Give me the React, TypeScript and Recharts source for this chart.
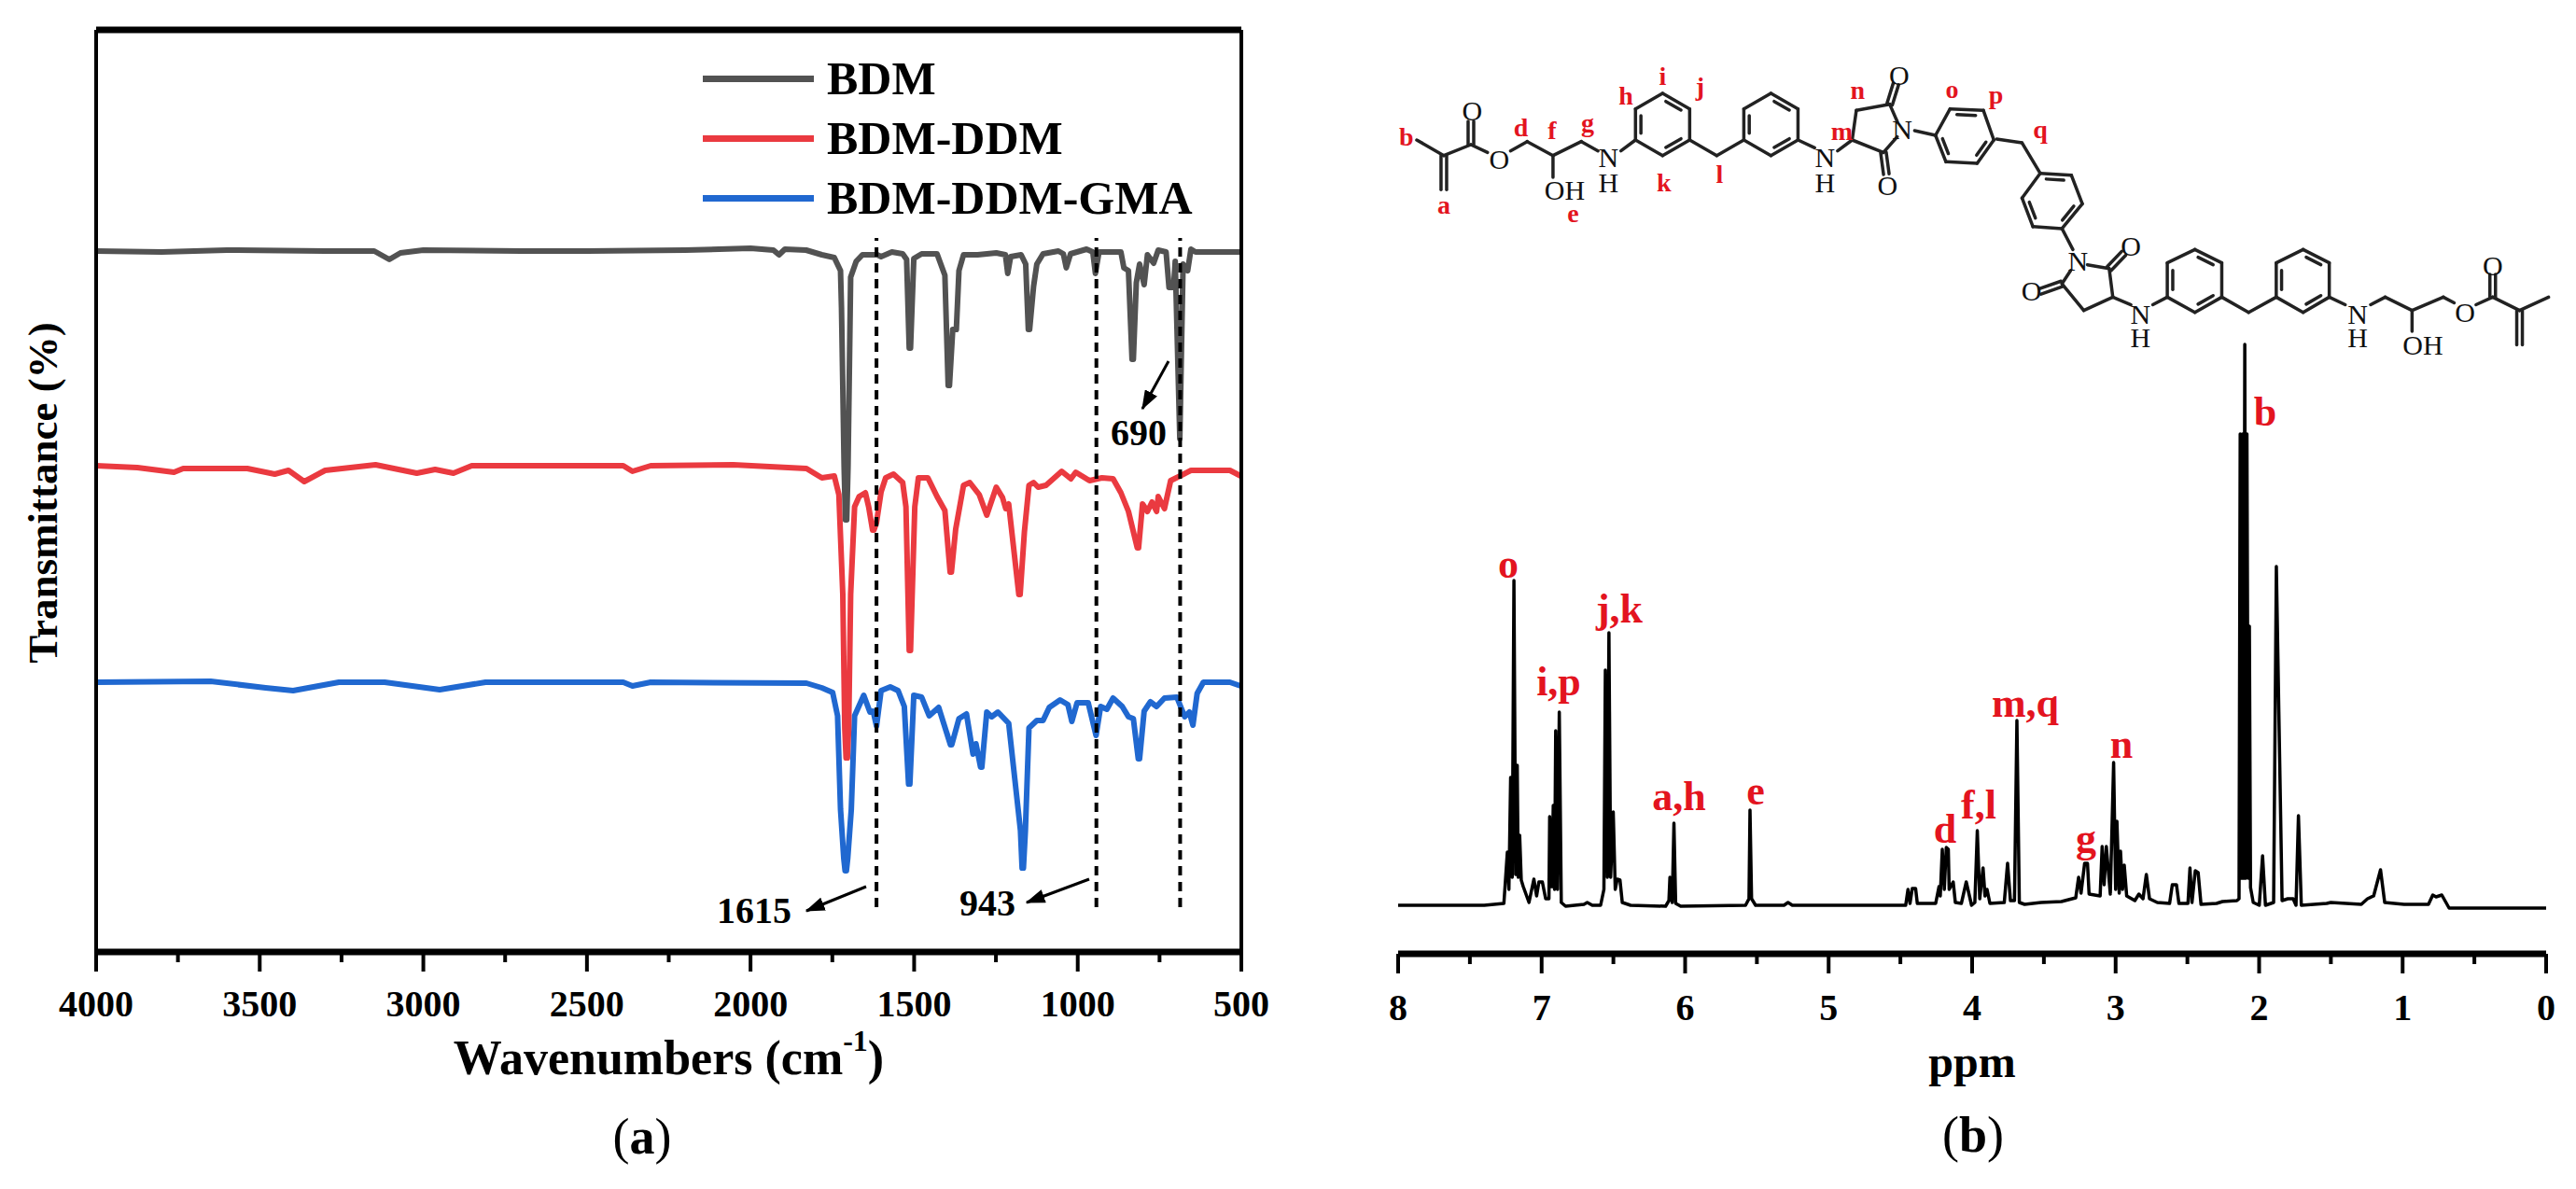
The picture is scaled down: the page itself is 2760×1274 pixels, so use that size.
import React from "react";
import { Legend, Line, LineChart, ReferenceLine, XAxis, YAxis } from "recharts";

const SERIF = "'Liberation Serif', 'Times New Roman', serif";

// [wavenumber, transmittance in arbitrary units]
const bdmPoints = [
  [4000, 751], [3800, 750], [3600, 752], [3300, 751], [3150, 751], [3104, 742], [3070, 749], [3000, 752], [2700, 751], [2500, 751],
  [2200, 752], [2000, 754], [1930, 752], [1913, 747], [1895, 753], [1830, 752], [1782, 747], [1744, 744], [1725, 730], [1722, 690],
  [1714, 520], [1710, 463], [1706, 463], [1702, 520], [1694, 723], [1677, 740], [1658, 747], [1613, 747], [1601, 745], [1568, 750], [1535, 748], [1523, 742], [1515, 647], [1511, 647],
  [1501, 743], [1477, 748], [1430, 748], [1406, 725], [1396, 607], [1392, 607], [1382, 667], [1371, 667], [1363, 730], [1349, 747], [1306, 747],
  [1249, 749], [1221, 747], [1214, 727], [1205, 745], [1173, 747], [1159, 737], [1151, 667], [1147, 667], [1135, 713], [1125, 737], [1106, 748],
  [1059, 751], [1044, 748], [1035, 733], [1022, 748], [973, 753], [954, 750], [946, 727], [935, 750], [868, 750], [859, 733],
  [845, 730], [834, 635], [830, 635], [821, 717], [811, 737], [797, 715], [787, 747], [768, 738], [754, 752], [730, 750], [721, 712],
  [707, 712], [702, 740], [688, 550], [678, 737], [664, 730], [654, 753], [640, 750], [507, 750], [500, 750],
];

const bdmDdmPoints = [
  [4000, 521], [3874, 519], [3762, 514], [3734, 518], [3538, 518], [3454, 512], [3412, 516], [3364, 504], [3300, 516], [3146, 522],
  [3020, 513], [2964, 517], [2908, 513], [2852, 521], [2389, 521], [2361, 515], [2305, 521], [2053, 522], [1829, 518], [1782, 508],
  [1744, 510], [1730, 490], [1718, 383], [1712, 240], [1708, 208], [1704, 208], [1700, 240], [1694, 383], [1682, 477], [1668, 488], [1649, 492], [1639, 477], [1627, 452], [1623, 452],
  [1615, 460], [1601, 493], [1587, 508], [1563, 512], [1535, 503], [1525, 477], [1515, 323], [1511, 323], [1498, 477], [1487, 508], [1458, 508],
  [1430, 488], [1406, 473], [1390, 407], [1386, 407], [1373, 453], [1349, 500], [1330, 503], [1301, 490], [1278, 468], [1249, 498], [1230, 487],
  [1220, 475], [1211, 480], [1180, 383], [1176, 383], [1163, 450], [1149, 500], [1135, 503], [1121, 498], [1097, 500], [1049, 515], [1021, 507],
  [1006, 514], [964, 505], [926, 508], [892, 507], [868, 492], [845, 472], [818, 433], [814, 433], [802, 480], [787, 472], [773, 482],
  [759, 472], [754, 488], [735, 475], [716, 505], [654, 516], [535, 516], [502, 510],
];

const bdmDdmGmaPoints = [
  [4000, 289], [3650, 290], [3482, 283], [3398, 280], [3258, 289], [3118, 289], [2950, 281], [2810, 289], [2389, 289], [2361, 285],
  [2305, 289], [1829, 288], [1782, 283], [1749, 278], [1734, 253], [1725, 153], [1715, 100], [1711, 87], [1707, 87], [1703, 100], [1692, 153], [1682, 253], [1654, 275],
  [1635, 257], [1625, 258], [1615, 242], [1601, 280], [1573, 284], [1549, 280], [1530, 263], [1517, 180], [1513, 180], [1501, 275], [1477, 273],
  [1454, 253], [1425, 262], [1389, 222], [1385, 222], [1363, 250], [1340, 255], [1320, 212], [1311, 223], [1297, 198], [1293, 198], [1278, 257], [1263, 252],
  [1244, 257], [1211, 245], [1175, 130], [1170, 90], [1166, 90], [1160, 130], [1149, 240], [1125, 248], [1106, 248], [1087, 262], [1054, 270], [1030, 265], [1018, 247],
  [1002, 267], [968, 267], [944, 232], [930, 263], [911, 260], [892, 272], [864, 263], [845, 252], [830, 250], [815, 207], [811, 207],
  [797, 258], [778, 268], [759, 263], [735, 272], [697, 273], [673, 252], [659, 257], [648, 243], [635, 277], [616, 289],
  [535, 289], [502, 285],
];

// [ppm, intensity in arbitrary units]
const nmrPoints = [
  [8, 1], [7.4, 1], [7.263, 3], [7.239, 58], [7.228, 18], [7.216, 138], [7.205, 31], [7.193, 349], [7.181, 34], [7.17, 151],
  [7.163, 31], [7.153, 76], [7.142, 28], [7.128, 21], [7.088, 4], [7.054, 29], [7.035, 11], [7.019, 26], [6.995, 26], [6.972, 8],
  [6.949, 8], [6.944, 96], [6.93, 21], [6.919, 108], [6.91, 18], [6.902, 188], [6.889, 18], [6.877, 208], [6.863, 4], [6.833, 0],
  [6.705, 2], [6.682, 4], [6.647, 1], [6.589, 1], [6.566, 18], [6.556, 253], [6.542, 31], [6.531, 293], [6.519, 31], [6.501, 101],
  [6.487, 18], [6.473, 29], [6.454, 28], [6.438, 4], [6.38, 1], [6.136, 0], [6.113, 6], [6.106, 31], [6.09, 4], [6.078, 89],
  [6.066, 3], [6.031, 0], [5.579, 1], [5.555, 8], [5.548, 103], [5.537, 8], [5.509, 1], [5.311, 1], [5.283, 4], [5.253, 1],
  [4.463, 1], [4.447, 18], [4.433, 3], [4.417, 19], [4.394, 19], [4.382, 3], [4.254, 3], [4.231, 21], [4.222, 11], [4.208, 61],
  [4.194, 18], [4.18, 63], [4.166, 61], [4.16, 18], [4.132, 26], [4.117, 4], [4.075, 3], [4.041, 26], [4.004, 1], [3.981, 4],
  [3.964, 81], [3.947, 8], [3.924, 41], [3.91, 11], [3.896, 18], [3.876, 3], [3.776, 4], [3.753, 46], [3.733, 6], [3.705, 6],
  [3.688, 199], [3.671, 4], [3.634, 2], [3.52, 4], [3.378, 5], [3.278, 9], [3.258, 31], [3.241, 14], [3.216, 46], [3.196, 46],
  [3.185, 13], [3.108, 11], [3.094, 64], [3.08, 23], [3.065, 64], [3.037, 13], [3.014, 154], [3.0, 18], [2.991, 91], [2.975, 14],
  [2.966, 59], [2.952, 18], [2.94, 44], [2.923, 11], [2.866, 6], [2.838, 13], [2.809, 8], [2.786, 34], [2.764, 8], [2.71, 4],
  [2.624, 3], [2.605, 23], [2.576, 23], [2.559, 3], [2.496, 3], [2.482, 41], [2.468, 4], [2.445, 38], [2.425, 36], [2.405, 2],
  [2.297, 3], [2.255, 5], [2.155, 6], [2.14, 8], [2.132, 506], [2.122, 30], [2.115, 506], [2.108, 30], [2.1, 602], [2.092, 30],
  [2.085, 506], [2.075, 30], [2.068, 300], [2.06, 20], [2.041, 4], [1.999, 1], [1.976, 54], [1.956, 1], [1.899, 4], [1.88, 364],
  [1.84, 6], [1.8, 8], [1.763, 8], [1.743, 1], [1.726, 97], [1.706, 1], [1.53, 3], [1.5, 4], [1.288, 2], [1.245, 8],
  [1.202, 11], [1.154, 39], [1.125, 4], [0.99, 2], [0.82, 2], [0.79, 12], [0.767, 10], [0.727, 12], [0.676, -2], [0, -2],
];

const irTicks = [4000, 3750, 3500, 3250, 3000, 2750, 2500, 2250, 2000, 1750, 1500, 1250, 1000, 750, 500];
const nmrTicks = [8, 7.5, 7, 6.5, 6, 5.5, 5, 4.5, 4, 3.5, 3, 2.5, 2, 1.5, 1, 0.5, 0];
const markedBands = [1615, 943, 687];

const peakLabels = [
  ["o", 1616, 604], ["i,p", 1670, 730], ["j,k", 1735, 652], ["a,h", 1799, 853], ["e", 1881, 847], ["d", 2084, 888],
  ["f,l", 2120, 862], ["m,q", 2170, 753], ["g", 2235, 898], ["n", 2273, 797], ["b", 2427, 441],
];

const toRows = (points: number[][]) => points.map(([x, y]) => ({ x, y }));

const z10 = (x: number, y: number) => [1480 + x / 2.24, 40 + y / 3];
const z3 = (x: number, y: number) => [1540 + x / 1.285, y / 2.45];

// molecule, in two crops of the reference
const chains10 = [
  [[85, 330], [150, 380], [215, 345], [255, 370]],
  [[310, 365], [350, 335], [412, 380], [480, 335], [520, 365]],
  [[412, 380], [412, 450]],
  [[575, 365], [610, 330]],
  [[740, 330], [805, 380], [870, 330]],
  [[1000, 330], [1040, 355]],
  [[1095, 365], [1130, 330], [1205, 370], [1238, 320]],
  [[1130, 330], [1140, 235], [1220, 215], [1238, 270]],
  [[1280, 300], [1330, 315]],
];
const rings10 = [
  [[675, 180], [740, 230], [740, 330], [675, 380], [610, 330], [610, 230]],
  [[935, 180], [1000, 230], [1000, 330], [935, 380], [870, 330], [870, 230]],
  [[1365, 230], [1445, 235], [1470, 330], [1430, 405], [1355, 400], [1330, 315]],
];
const doubles10 = [[150, 380, 150, 490], [215, 345, 215, 270], [1220, 215, 1235, 150], [1205, 370, 1212, 440]];
const atoms10 = [["O", 218, 235], ["O", 283, 390], ["OH", 440, 490], ["N", 545, 385], ["H", 545, 465], ["N", 1065, 385], ["H", 1065, 465], ["O", 1243, 120], ["N", 1250, 295], ["O", 1215, 475]];
const tags10 = [["b", 60, 318], ["a", 150, 538], ["d", 335, 288], ["f", 410, 297], ["g", 495, 275], ["e", 460, 565], ["h", 587, 188], ["i", 675, 125], ["j", 765, 157], ["k", 678, 465], ["l", 812, 440], ["m", 1105, 300], ["n", 1143, 170], ["o", 1370, 165], ["p", 1475, 185]];

const chains3 = [
  [[770, 365], [805, 375], [830, 455]],
  [[860, 600], [875, 655]],
  [[895, 695], [925, 705], [930, 780], [890, 815], [860, 745], [872, 710]],
  [[930, 780], [955, 800]],
  [[985, 800], [1005, 780]],
  [[1080, 780], [1117, 820], [1155, 780]],
  [[1228, 780], [1250, 800]],
  [[1285, 800], [1305, 780], [1342, 815], [1385, 780], [1400, 795]],
  [[1342, 815], [1342, 870]],
  [[1430, 800], [1453, 780], [1490, 815], [1530, 780]],
];
const rings3 = [
  [[830, 455], [873, 460], [888, 535], [860, 600], [820, 595], [805, 520]],
  [[1043, 655], [1080, 690], [1080, 780], [1043, 820], [1005, 780], [1005, 690]],
  [[1192, 655], [1228, 690], [1228, 780], [1192, 820], [1155, 780], [1155, 690]],
];
const doubles3 = [[925, 705, 945, 665], [860, 745, 830, 765], [1453, 780, 1453, 720], [1490, 815, 1490, 905]];
const atoms3 = [["O", 955, 645], ["N", 882, 685], ["O", 818, 763], ["N", 968, 825], ["H", 968, 885], ["N", 1267, 825], ["H", 1267, 885], ["O", 1415, 820], ["O", 1453, 697], ["OH", 1357, 905]];
const tags3 = [["q", 830, 340]];

const RED_TEXT = "#e3141f";

function AxisTick({ x, y, payload, every, dy, fontSize }: any) {
  const major = Math.abs(payload.value / every - Math.round(payload.value / every)) < 1e-6;
  return (
    <g>
      <line x1={x} x2={x} y1={y} y2={y + (major ? 21 : 11)} stroke="#000" strokeWidth={4} />
      {major && (
        <text x={x} y={y + dy} textAnchor="middle" dominantBaseline="central" fontFamily={SERIF} fontWeight="bold" fontSize={fontSize} fill="#000">
          {payload.value}
        </text>
      )}
    </g>
  );
}

function SpectraLegend({ payload }: any) {
  return (
    <div>
      {(payload || []).map((item: any) => (
        <div key={item.value} style={{ display: "flex", alignItems: "center", height: 64, lineHeight: 1, fontFamily: SERIF, fontWeight: "bold", fontSize: 50, whiteSpace: "nowrap" }}>
          <span style={{ display: "inline-block", width: 119, height: 7, marginRight: 14, background: item.color }} />
          {item.value}
        </div>
      ))}
    </div>
  );
}

function Molecule() {
  const bond = (a: number[], b: number[], key: string) => <line key={key} x1={a[0]} y1={a[1]} x2={b[0]} y2={b[1]} />;
  const drawPart = (map: (x: number, y: number) => number[], chains: number[][][], rings: number[][][], doubles: number[][], name: string) => {
    const out: React.ReactNode[] = [];
    chains.forEach((pts, i) => {
      const p = pts.map(([x, y]) => map(x, y));
      p.slice(1).forEach((q, j) => out.push(bond(p[j], q, `${name}c${i}-${j}`)));
    });
    rings.forEach((pts, i) => {
      const p = pts.map(([x, y]) => map(x, y));
      const cx = p.reduce((s, q) => s + q[0], 0) / 6;
      const cy = p.reduce((s, q) => s + q[1], 0) / 6;
      p.forEach((q, j) => {
        const r = p[(j + 1) % 6];
        out.push(bond(q, r, `${name}r${i}-${j}`));
        if (j % 2 === 0) {
          const inner = (s: number[], o: number[]) => {
            const tx = s[0] + (o[0] - s[0]) * 0.15;
            const ty = s[1] + (o[1] - s[1]) * 0.15;
            return [tx + (cx - tx) * 0.2, ty + (cy - ty) * 0.2];
          };
          out.push(bond(inner(q, r), inner(r, q), `${name}i${i}-${j}`));
        }
      });
    });
    doubles.forEach(([x1, y1, x2, y2], i) => {
      const a = map(x1, y1);
      const b = map(x2, y2);
      const len = Math.hypot(b[0] - a[0], b[1] - a[1]);
      const nx = ((b[1] - a[1]) / len) * 3;
      const ny = (-(b[0] - a[0]) / len) * 3;
      out.push(bond([a[0] + nx, a[1] + ny], [b[0] + nx, b[1] + ny], `${name}d${i}a`));
      out.push(bond([a[0] - nx, a[1] - ny], [b[0] - nx, b[1] - ny], `${name}d${i}b`));
    });
    return out;
  };
  const drawText = (map: (x: number, y: number) => number[], items: any[], fill: string, weight: string, size: number, name: string) =>
    items.map(([t, x, y], i) => {
      const [px, py] = map(x, y);
      return (
        <text key={`${name}${i}`} x={px} y={py} fill={fill} fontWeight={weight} fontSize={size} textAnchor="middle" dominantBaseline="central">
          {t}
        </text>
      );
    });
  return (
    <g fontFamily={SERIF}>
      <g stroke="#222" strokeWidth={3.5} strokeLinecap="round">
        {drawPart(z10, chains10, rings10, doubles10, "a")}
        {drawPart(z3, chains3, rings3, doubles3, "b")}
      </g>
      {drawText(z10, atoms10, "#111", "normal", 30, "t")}
      {drawText(z3, atoms3, "#111", "normal", 30, "u")}
      {drawText(z10, tags10, RED_TEXT, "bold", 28, "v")}
      {drawText(z3, tags3, RED_TEXT, "bold", 28, "w")}
    </g>
  );
}

function Annotations() {
  const arrow = (x1: number, y1: number, x2: number, y2: number) => (
    <line x1={x1} y1={y1} x2={x2} y2={y2} stroke="#000" strokeWidth={3} markerEnd="url(#head)" />
  );
  const note = { fontFamily: SERIF, fontWeight: "bold", fontSize: 40, textAnchor: "middle", dominantBaseline: "central", fill: "#000" } as any;
  return (
    <svg width={2760} height={1274} style={{ position: "absolute", left: 0, top: 0, pointerEvents: "none" }}>
      <defs>
        <marker id="head" markerWidth={7} markerHeight={5} refX={6.5} refY={2.5} orient="auto">
          <path d="M0,0 L7,2.5 L0,5 Z" fill="#000" />
        </marker>
      </defs>
      {arrow(1252, 387, 1224, 438)}
      {arrow(928, 950, 864, 976)}
      {arrow(1167, 942, 1100, 967)}
      <text x={1220} y={463} {...note}>690</text>
      <text x={808} y={975} {...note}>1615</text>
      <text x={1058} y={967} {...note}>943</text>
      {peakLabels.map(([t, x, y]) => (
        <text key={t as string} x={x} y={y} fill={RED_TEXT} fontFamily={SERIF} fontWeight="bold" fontSize={44} textAnchor="middle" dominantBaseline="central">
          {t}
        </text>
      ))}
      <Molecule />
      <text x={688} y={1218} fontFamily={SERIF} fontSize={54} textAnchor="middle" dominantBaseline="central">
        (<tspan fontWeight="bold">a</tspan>)
      </text>
      <text x={2114} y={1216} fontFamily={SERIF} fontSize={54} textAnchor="middle" dominantBaseline="central">
        (<tspan fontWeight="bold">b</tspan>)
      </text>
    </svg>
  );
}

function IrChart() {
  return (
    <div style={{ position: "absolute", left: 0, top: 0 }}>
      <LineChart width={1400} height={1274} margin={{ top: 31, right: 69, bottom: 194, left: 102 }}>
        <XAxis
          type="number"
          dataKey="x"
          domain={[500, 4000]}
          reversed
          ticks={irTicks}
          interval={0}
          height={60}
          tickSize={0}
          tickMargin={0}
          tickLine={false}
          axisLine={{ stroke: "#000", strokeWidth: 7 }}
          tick={(p: any) => <AxisTick {...p} every={500} dy={55} fontSize={40} />}
          label={(p: any) => (
            <text x={p.viewBox.x + p.viewBox.width / 2} y={1133} textAnchor="middle" dominantBaseline="central" fontFamily={SERIF} fontWeight="bold" fontSize={52}>
              Wavenumbers (cm<tspan dy={-18} fontSize={32}>-1</tspan><tspan dy={18}>)</tspan>
            </text>
          )}
        />
        <XAxis xAxisId="top" type="number" orientation="top" domain={[500, 4000]} reversed height={1} tick={false} tickLine={false} axisLine={{ stroke: "#000", strokeWidth: 7 }} />
        <YAxis
          type="number"
          domain={[0, 988]}
          width={1}
          tick={false}
          tickLine={false}
          axisLine={{ stroke: "#000", strokeWidth: 4 }}
          label={() => (
            <text x={46} y={528} transform="rotate(-90 46 528)" textAnchor="middle" dominantBaseline="central" fontFamily={SERIF} fontWeight="bold" fontSize={45}>
              Transmittance (%)
            </text>
          )}
        />
        <YAxis yAxisId="right" orientation="right" type="number" domain={[0, 988]} width={1} tick={false} tickLine={false} axisLine={{ stroke: "#000", strokeWidth: 4 }} />
        <Legend
          layout="vertical"
          align="center"
          verticalAlign="middle"
          wrapperStyle={{ left: 753, top: 52, width: 620 }}
          content={<SpectraLegend />}
        />
        <Line data={toRows(bdmDdmGmaPoints)} dataKey="y" name="BDM-DDM-GMA" type="linear" stroke="#2068d0" strokeWidth={6} strokeLinejoin="round" dot={false} isAnimationActive={false} />
        <Line data={toRows(bdmDdmPoints)} dataKey="y" name="BDM-DDM" type="linear" stroke="#ea3a40" strokeWidth={6} strokeLinejoin="round" dot={false} isAnimationActive={false} />
        <Line data={toRows(bdmPoints)} dataKey="y" name="BDM" type="linear" stroke="#525252" strokeWidth={6} strokeLinejoin="round" dot={false} isAnimationActive={false} />
        {markedBands.map((band) => (
          <ReferenceLine
            key={band}
            segment={[{ x: band, y: 48 }, { x: band, y: 765 }]}
            stroke="#000"
            strokeWidth={4}
            strokeDasharray="10 7"
          />
        ))}
      </LineChart>
    </div>
  );
}

function NmrChart() {
  return (
    <div style={{ position: "absolute", left: 1400, top: 0 }}>
      <LineChart width={1360} height={1274} margin={{ top: 322, right: 32, bottom: 192, left: 98 }}>
        <XAxis
          type="number"
          dataKey="x"
          domain={[0, 8]}
          reversed
          ticks={nmrTicks}
          interval={0}
          height={60}
          tickSize={0}
          tickMargin={0}
          tickLine={false}
          axisLine={{ stroke: "#000", strokeWidth: 7 }}
          tick={(p: any) => <AxisTick {...p} every={1} dy={57} fontSize={40} />}
          label={(p: any) => (
            <text x={p.viewBox.x + p.viewBox.width / 2} y={1137} textAnchor="middle" dominantBaseline="central" fontFamily={SERIF} fontWeight="bold" fontSize={48}>
              ppm
            </text>
          )}
        />
        <YAxis type="number" domain={[-51, 649]} hide />
        <Line data={toRows(nmrPoints)} dataKey="y" name="1H NMR" type="linear" stroke="#000" strokeWidth={3.5} strokeLinejoin="round" dot={false} isAnimationActive={false} />
      </LineChart>
    </div>
  );
}

export default function App() {
  return (
    <div style={{ position: "absolute", left: 0, top: 0, width: 2760, height: 1274, overflow: "hidden", background: "#fff" }}>
      <IrChart />
      <NmrChart />
      <Annotations />
    </div>
  );
}
